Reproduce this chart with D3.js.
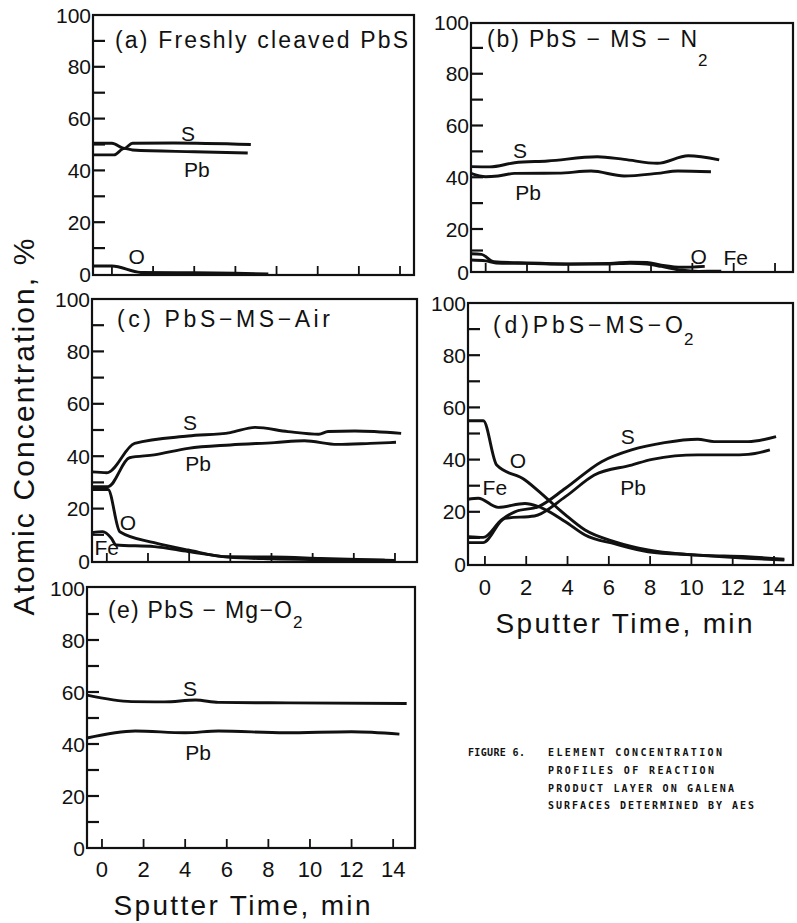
<!DOCTYPE html>
<html><head><meta charset="utf-8">
<script src="https://cdn.jsdelivr.net/npm/d3@7"></script>
<style>
body{margin:0;background:#fff}
svg{display:block}
text{font-family:"Liberation Sans",Arial,sans-serif;fill:#111}
</style>
</head><body>
<svg id="chart" width="797" height="923"></svg>
<script>
// ---- tick values ----
const timeTicks = [0, 2, 4, 6, 8, 10, 12, 14];
const yMajorTicks = [0, 20, 40, 60, 80, 100];
const yAllTicks = [10, 20, 30, 40, 50, 60, 70, 80, 90];

// ---- (a) Freshly cleaved PbS : [time min, atomic %] ----
const a_S  = [[-0.92,50.5],[0,50.5],[0.6,48.5],[1.0,50.5],[3,50.6],[6.75,50.0]];
const a_Pb = [[-0.92,46.0],[0.1,46.0],[0.6,48.5],[1.0,47.9],[4,47.2],[6.6,46.7]];
const a_O  = [[-0.92,3.1],[0,3.1],[1.4,0.6],[4,0.5],[6,0.3],[7.6,0.0]];

// ---- (b) PbS-MS-N2 ----
const b_S  = [[-0.71,44.1],[0.2,44.0],[1.4,45.6],[3,46.3],[5.4,47.9],[6.7,46.9],[8.3,45.4],[9.8,48.3],[11.3,46.7]];
const b_Pb = [[-0.71,41.5],[0,40.2],[0.6,40.5],[1.4,41.5],[3.5,41.6],[5.1,42.4],[6.7,40.5],[8.3,41.5],[9.3,42.4],[10.9,42.1]];
const b_O  = [[-0.71,8.5],[-0.2,8.2],[0.4,4.8],[2,4.2],[4,3.8],[6,4.0],[7,4.6],[7.8,4.4],[8.5,3.2],[9.5,2.2],[10.6,2.6]];
const b_Fe = [[-0.71,5.6],[0,5.2],[0.5,4.2],[2,4.0],[4,3.6],[6,3.7],[7,4.1],[7.8,3.7],[8.5,2.6],[9.5,0.8],[10.3,0.3],[11.4,0.4]];

// ---- (c) PbS-MS-Air ----
const c_S  = [[-0.72,34.0],[0,33.7],[1.35,44.9],[3.95,47.7],[6,49.0],[7.2,51.0],[8.8,49.4],[10.3,48.4],[10.75,49.4],[12.05,49.6],[14.3,48.7]];
const c_Pb = [[-0.72,28.4],[0.06,28.4],[1.1,39.4],[2.3,40.5],[3.95,43.0],[6,44.3],[8.15,45.2],[9.6,45.9],[11.2,44.5],[12.8,44.9],[14.05,45.3]];
const c_O  = [[-0.72,27.3],[0.06,27.3],[0.63,11.2],[2.3,7.0],[3.95,4.2],[5.9,1.6],[8,1.5],[10.4,1.0],[14,0.2]];
const c_Fe = [[-0.72,10.8],[-0.2,11.2],[0.22,8.7],[0.45,6.1],[2.3,5.5],[3.95,3.6],[5.9,1.5],[8,0.8],[10.4,0.5],[13.5,0.3]];

// ---- (d) PbS-MS-O2 ----
const d_O  = [[-0.82,54.9],[-0.08,54.9],[0.57,37.9],[1.94,32.2],[2.9,25.8],[3.9,18.8],[4.85,13.0],[6.3,8.5],[7.9,5.4],[10.3,3.4],[12.7,2.8],[14.5,1.8]];
const d_Fe = [[-0.82,24.8],[-0.32,25.2],[0.64,21.7],[1.94,23.2],[2.6,22.0],[3.9,16.2],[4.85,11.1],[6.3,7.7],[7.9,4.7],[10.3,3.4],[12.7,2.2],[14.5,1.5]];
const d_S  = [[-0.82,10.5],[-0.08,10.2],[0.8,16.9],[1.45,20.0],[2.6,22.0],[3.9,29.0],[5.65,39.2],[7.1,43.7],[8.7,46.5],[10.3,47.8],[11.1,46.9],[12.75,46.9],[14.1,48.8]];
const d_Pb = [[-0.82,8.2],[-0.1,8.2],[0.97,17.5],[2.4,18.4],[3.9,25.8],[5.3,34.1],[7.1,37.9],[8.1,40.1],[10.3,41.8],[11.9,41.8],[12.75,42.0],[13.8,43.7]];

// ---- (e) PbS-Mg-O2 ----
const e_S  = [[-0.72,58.8],[1.43,56.3],[3,56.2],[4.5,56.9],[5.6,56.0],[9,55.8],[14.65,55.6]];
const e_Pb = [[-0.72,42.3],[1.6,45.0],[4,44.3],[5.6,45.0],[8.8,44.3],[12,44.7],[14.3,43.8]];

// ---- text ----
const yTitle = "Atomic Concentration, %";
const xTitle = "Sputter Time, min";
const captionHead = "FIGURE 6.";
const captionLines = ["ELEMENT CONCENTRATION","PROFILES OF REACTION","PRODUCT LAYER ON GALENA","SURFACES DETERMINED BY AES"];

// ---- layout (pixels) ----
const panels = [
  {box:[93,15,414,275], xDom:[-0.92,14.68], yDom:[0,100], yRng:[274,15],
   title:"(a) Freshly cleaved PbS", sub:null, tx:115, tlen:293, ty:48,
   series:[a_S,a_Pb,a_O],
   labels:[["S",3.7,54.4],["Pb",4.13,40.2],["O",1.2,6.6]], xLabels:false},
  {box:[471,23,793,272], xDom:[-0.71,14.87], yDom:[0,20,100], yRng:[272,229,22],
   title:"(b) PbS − MS − N", sub:"2", tx:487, tlen:210, ty:47, sy:66,
   series:[b_S,b_Pb,b_O,b_Fe],
   labels:[["S",1.66,50.5],["Pb",2.05,34.3],["O",10.3,7.4],["Fe",12.1,7.0]], xLabels:false},
  {box:[92,299,417,562], xDom:[-0.72,15.07], yDom:[0,100], yRng:[561,299],
   title:"(c) PbS−MS−Air", sub:null, tx:117, tlen:213, ty:327,
   series:[c_S,c_Pb,c_O,c_Fe],
   labels:[["S",4.04,52.7],["Pb",4.43,37.4],["O",1.03,14.9],["Fe",0.0,5.0]], xLabels:false},
  {box:[468,303,793,565], xDom:[-0.82,14.92], yDom:[0,100], yRng:[564,303],
   title:"(d)PbS−MS−O", sub:"2", tx:493, tlen:190, ty:333, sy:345,
   series:[d_O,d_Fe,d_S,d_Pb],
   labels:[["S",6.92,48.7],["Pb",7.17,29.5],["O",1.6,39.8],["Fe",0.48,29.5]], xLabels:true,
   tickY:595, xtX:624, xtY:633},
  {box:[87,587,415,848], xDom:[-0.72,15.05], yDom:[0,100], yRng:[848,588],
   title:"(e) PbS − Mg−O", sub:"2", tx:108, tlen:184, ty:618, sy:628,
   series:[e_S,e_Pb],
   labels:[["S",4.23,61.5],["Pb",4.62,36.9]], xLabels:true,
   tickY:877, xtX:242, xtY:915}
];

const svg = d3.select("#chart");
svg.append("rect").attr("width",797).attr("height",923).attr("fill","#fff");

panels.forEach(p => {
  const [L,T,R,B] = p.box;
  const x = d3.scaleLinear().domain(p.xDom).range([L,R]);
  const y = d3.scaleLinear().domain(p.yDom).range(p.yRng);
  const g = svg.append("g");

  // frame
  g.append("rect").attr("x",L).attr("y",T).attr("width",R-L).attr("height",B-T)
    .attr("fill","none").attr("stroke","#111").attr("stroke-width",2.2);

  // y ticks (inward)
  g.selectAll(".yt").data(yAllTicks).enter().append("line")
    .attr("x1",L).attr("x2",L+12).attr("y1",d=>y(d)).attr("y2",d=>y(d))
    .attr("stroke","#111").attr("stroke-width",2.2);
  // y labels
  g.selectAll(".yl").data(yMajorTicks).enter().append("text")
    .attr("x",L-2).attr("y",d=>y(d)).attr("dy","0.36em")
    .attr("text-anchor","end").attr("font-size",21).text(d=>d);

  // x ticks (inward)
  g.selectAll(".xt").data(timeTicks).enter().append("line")
    .attr("x1",d=>x(d)).attr("x2",d=>x(d)).attr("y1",B).attr("y2",B-9)
    .attr("stroke","#111").attr("stroke-width",1.8);

  if (p.xLabels) {
    g.selectAll(".xl").data(timeTicks).enter().append("text")
      .attr("x",d=>x(d)).attr("y",p.tickY).attr("text-anchor","middle")
      .attr("font-size",22).text(d=>d);
    g.append("text").attr("x",p.xtX).attr("y",p.xtY).attr("text-anchor","middle")
      .attr("font-size",28).attr("textLength",257).attr("lengthAdjust","spacing").text(xTitle);
  }

  // title
  g.append("text").attr("x",p.tx).attr("y",p.ty).attr("font-size",23)
    .attr("textLength",p.tlen).attr("lengthAdjust","spacing").text(p.title);
  if (p.sub) {
    g.append("text").attr("x",p.tx+p.tlen+1).attr("y",p.sy).attr("font-size",17).text(p.sub);
  }

  // series
  const line = d3.line().x(d=>x(d[0])).y(d=>y(d[1])).curve(d3.curveMonotoneX);
  p.series.forEach(s => {
    g.append("path").attr("d",line(s)).attr("fill","none")
      .attr("stroke","#111").attr("stroke-width",2.9).attr("stroke-linejoin","round");
  });

  // element labels
  p.labels.forEach(([txt,tv,vv]) => {
    g.append("text").attr("x",x(tv)).attr("y",y(vv)).attr("dy","0.36em")
      .attr("text-anchor","middle").attr("font-size",21).text(txt);
  });
});

// y axis title
svg.append("text").attr("transform","translate(34,427) rotate(-90)")
  .attr("text-anchor","middle").attr("font-size",30)
  .attr("textLength",377).attr("lengthAdjust","spacing").text(yTitle);

// caption
const cap = svg.append("g");
cap.append("text").attr("x",468).attr("y",756).attr("font-size",10)
  .attr("textLength",57).attr("lengthAdjust","spacing")
  .style("font-family","'DejaVu Sans Mono',monospace").style("font-weight","bold").text(captionHead);
const capLens = [174, 166, 186, 206];
captionLines.forEach((s,i) => {
  cap.append("text").attr("x",548).attr("y",756 + i*17.8).attr("font-size",10)
    .attr("textLength",capLens[i]).attr("lengthAdjust","spacing")
    .style("font-family","'DejaVu Sans Mono',monospace").style("font-weight","bold").text(s);
});
</script>
</body></html>
